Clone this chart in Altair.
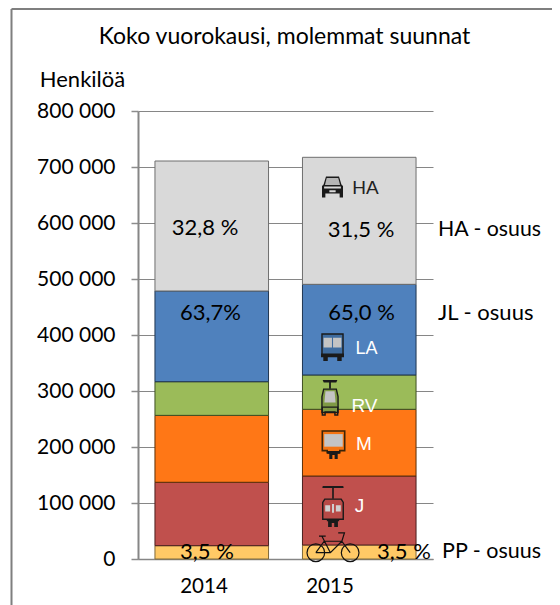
import altair as alt
import pandas as pd

YEARS = ["2014", "2015"]
MODES = ["PP", "J", "M", "RV", "LA", "HA"]
COLORS = ["#ffc966", "#c0504d", "#ff7716", "#9bbb59", "#4f81bd", "#d9d9d9"]
STROKES = ["#7f6a3a", "#4a1f1e", "#5c3008", "#3f4f24", "#1f3550", "#6e6e6e"]
V2014 = [23800, 113200, 119500, 60100, 162000, 232100]
V2015 = [25000, 123200, 119100, 61300, 161900, 226800]
Y_TICKS = [0, 100000, 200000, 300000, 400000, 500000, 600000, 700000, 800000]
FONT = "Lato"
ARIAL = "Liberation Sans"

rows = []
for year, vals in zip(YEARS, [V2014, V2015]):
    base = 0
    for mode, v in zip(MODES, vals):
        rows.append({"year": year, "mode": mode, "y0": base, "y1": base + v})
        base += v
df = pd.DataFrame(rows)

W, H = 295, 448
PAD_L, PAD_T = 130, 103

x_enc = alt.X("year:N", sort=YEARS, scale=alt.Scale(paddingInner=0.23, paddingOuter=0.115),
              axis=alt.Axis(title=None, labels=False, grid=False,
                            domainColor="#868686", domainWidth=1.5, ticks=False))
y_enc = alt.Y("y0:Q", scale=alt.Scale(domain=[0, 800000]),
              axis=alt.Axis(title=None, values=Y_TICKS, labelExpr="replace(format(datum.value, ','), ',', ' ')",
                            labelFont=FONT, labelFontSize=21, labelColor="#000", labelPadding=16,
                            tickColor="#8c8c8c", tickSize=7, tickWidth=1.5, domainColor="#868686", domainWidth=2,
                            grid=True, gridColor="#868686", gridWidth=1))

bars = alt.Chart(df).mark_bar(strokeWidth=1).encode(
    x=x_enc,
    y=y_enc,
    y2="y1:Q",
    fill=alt.Fill("mode:N", sort=MODES, scale=alt.Scale(domain=MODES, range=COLORS), legend=None),
    stroke=alt.Stroke("mode:N", sort=MODES, scale=alt.Scale(domain=MODES, range=STROKES), legend=None),
)


def note(text, px, py, font=FONT, size=22, color="#000", align="center"):
    """One free text label, page position minus the plot origin."""
    return alt.Chart(pd.DataFrame({"t": [text]})).mark_text(
        font=font, fontSize=size, color=color, align=align, baseline="middle", clip=False
    ).encode(text="t:N", x=alt.value(px - 138), y=alt.value(py - 111))


def rule(x1, y1, x2, y2, color="#7f7f7f", width=2):
    return alt.Chart(pd.DataFrame({"a": [0]})).mark_rule(color=color, strokeWidth=width).encode(
        x=alt.value(x1 - 138), x2=alt.value(x2 - 138), y=alt.value(y1 - 111), y2=alt.value(y2 - 111)
    )


def icon(path, px, py, half, fill=None, stroke=None, sw=1.0):
    """A drawn pictogram: path units of +-1 span +-half pixels."""
    kw = {"shape": path, "size": (2 * half) ** 2, "opacity": 1}
    if fill:
        kw.update(fill=fill, filled=True)
    else:
        kw.update(filled=False, fill="transparent")
    if stroke:
        kw.update(stroke=stroke, strokeWidth=sw)
    else:
        kw.update(strokeWidth=0)
    return alt.Chart(pd.DataFrame({"a": [0]})).mark_point(**kw).encode(
        x=alt.value(px - 138), y=alt.value(py - 111)
    )


INK = "#1a1a1a"
GLASS = "#c4c4c4"

CAR_BODY = "M-.62 -1H.62L.85 -.25L1 -.1V1H.68V.62H-.68V1H-1V-.1L-.85 -.25Z"
CAR_GLASS = "M-.55 -.85H.55L.72 -.2H-.72Z"
CAR_GRILLE = "M-.8 -.05H.8V.15H-.8ZM-.3 .3H.3V.5H-.3Z"
BUS_BODY = "M-.78 -1H.78V.62H-.78Z"
BUS_WHEELS = "M-.85 .45H.85V.72H.68V1H.35V.72H-.35V1H-.68V.72H-.85Z"
BUS_GLASS = "M-.66 -.72H-.04V0H-.66ZM.04 -.72H.66V0H.04Z"
M_BODY = "M-.8 -1H.8V.4H.45V.55H-.45V.4H-.8Z"
M_GLASS = "M-.66 -.78H.66V.12H-.66Z"
M_WHEELS = "M-.45 .42H.45V.62H.3V1H.08V.72H-.08V1H-.3V.62H-.45Z"
RV_POLE = "M-.42 -1H.42L.36 -.86H.05V-.5H-.05V-.86H-.36Z"
RV_BODY = "M-.36 -.48H.36L.46 -.05V.86H-.46V-.05Z"
RV_GLASS = "M-.26 -.36H.26L.32 .28H-.32Z"
RV_FOOT = "M-.44 .55H.44V1H.28V.82H-.28V1H-.44Z"
J_POLE = "M-.5 -1H.5L.52 -.9H.04V-.38H-.04V-.9H-.52Z"
J_BODY = "M-.4 -.36L-.5 -.2V.62H.5V-.2L.4 -.36Z"
J_GLASS = "M-.38 -.06H-.14V.24H-.38ZM.14 -.06H.38V.24H.14ZM-.05 -.12H.05V.3H-.05Z"
J_FOOT = "M-.3 .62H.3V.72H.24V1H.06V.8H-.06V1H-.24V.72H-.3Z"
BIKE = ("M-1 .2A.34 .34 0 1 0 -.32 .2A.34 .34 0 1 0 -1 .2Z"
        "M.32 .2A.34 .34 0 1 0 1 .2A.34 .34 0 1 0 .32 .2Z"
        "M-.66 .2L-.34 -.24H.34L.66 .2M-.66 .2H-.1L.34 -.24M-.1 .2L-.42 -.42"
        "M-.54 -.44H-.28M.2 -.56H.44L.34 -.24")

layers = [
    bars,
    rule(11.5, 9, 552, 9),
    rule(11.5, 9, 11.5, 605),
    note("Koko vuorokausi, molemmat suunnat", 284.5, 37, size=23),
    note("Henkilöä", 82.5, 80),
    note("32,8 %", 205, 228),
    note("31,5 %", 361, 230),
    note("63,7%", 210.5, 313),
    note("65,0 %", 361.5, 313),
    note("3,5 %", 207, 552),
    note("3,5 %", 404, 552),
    note("HA - osuus", 438, 230, size=21.3, align="left"),
    note("JL - osuus", 438, 313, align="left"),
    note("PP - osuus", 442, 552, size=21.5, align="left"),
    note(YEARS[0], 204, 587, size=20.5),
    note(YEARS[1], 330, 587, size=20.5),
    note("HA", 365.5, 188, font=ARIAL, size=19, color="#222"),
    note("LA", 366.5, 349, font=ARIAL, size=18, color="#fff"),
    note("RV", 364.5, 406, font=ARIAL, size=19, color="#fff"),
    note("M", 364, 444, font=ARIAL, size=19, color="#fff"),
    note("J", 359.5, 506, font=ARIAL, size=19, color="#fff"),
    # car
    icon(CAR_BODY, 332.5, 187, 10.5, fill=INK),
    icon(CAR_GLASS, 332.5, 187, 10.5, fill="#b5b5b5"),
    icon(CAR_GRILLE, 332.5, 187, 10.5, fill="#d9d9d9"),
    # bus
    icon(BUS_BODY, 332.5, 347.5, 13.5, fill="#3f6c9f", stroke=INK, sw=1.4),
    icon(BUS_WHEELS, 332.5, 347.5, 13.5, fill=INK),
    icon(BUS_GLASS, 332.5, 347.5, 13.5, fill=GLASS),
    # tram
    icon(RV_POLE, 330, 397.5, 17.5, fill=INK),
    icon(RV_BODY, 330, 397.5, 17.5, fill="#7f9a45", stroke=INK, sw=1.4),
    icon(RV_GLASS, 330, 397.5, 17.5, fill=GLASS),
    icon(RV_FOOT, 330, 397.5, 17.5, stroke=INK, sw=1.4),
    # metro
    icon(M_BODY, 333.5, 445, 14, fill="#f47412", stroke="#3a2408", sw=1.6),
    icon(M_GLASS, 333.5, 445, 14, fill=GLASS),
    icon(M_WHEELS, 333.5, 445, 14, fill=INK),
    # train
    icon(J_POLE, 333, 506.5, 20.5, fill=INK),
    icon(J_BODY, 333, 506.5, 20.5, fill="#b84a47", stroke=INK, sw=1.4),
    icon(J_GLASS, 333, 506.5, 20.5, fill="#d0d0d0"),
    icon(J_FOOT, 333, 506.5, 20.5, fill=INK),
    # bicycle
    icon(BIKE, 333, 547.5, 26, stroke="#111", sw=1.2),
]

chart = alt.layer(*layers).properties(
    width=W, height=H,
    background="#ffffff",
    autosize=alt.AutoSizeParams(type="none"),
    padding={"left": PAD_L, "top": PAD_T, "right": 119, "bottom": 46},
).configure_view(stroke=None)

chart.save("out.html", embed_options={"renderer": "svg", "actions": False})
